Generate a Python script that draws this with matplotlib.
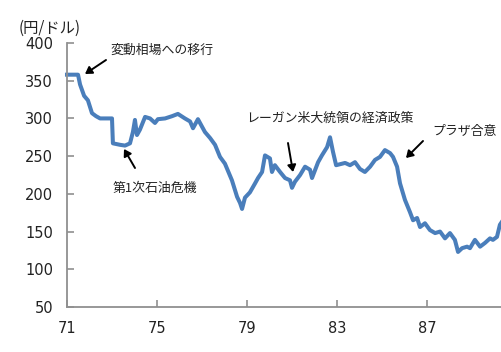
import matplotlib
matplotlib.use("Agg")
import matplotlib.pyplot as plt

plt.rcParams['font.family'] = ['Noto Sans CJK JP', 'DejaVu Sans']

years = [71.00, 71.49, 71.58, 71.76, 71.93, 72.11, 72.29, 72.47, 73.00, 73.04,
         73.36, 73.58, 73.80, 73.93, 74.02, 74.11, 74.24, 74.47, 74.69, 74.91,
         75.04, 75.36, 75.67, 75.93, 76.24, 76.47, 76.60, 76.82, 77.13, 77.36,
         77.58, 77.80, 78.02, 78.33, 78.56, 78.69, 78.78, 78.91, 79.13, 79.36,
         79.49, 79.67, 79.80, 80.02, 80.11, 80.24, 80.47, 80.69, 80.91, 81.00,
         81.13, 81.36, 81.58, 81.80, 81.89, 82.16, 82.33, 82.56, 82.69, 82.82,
         82.96, 83.36, 83.58, 83.80, 84.02, 84.24, 84.47, 84.69, 84.91, 85.13,
         85.36, 85.49, 85.67, 85.80, 86.02, 86.24, 86.38, 86.56, 86.69, 86.91,
         87.13, 87.36, 87.58, 87.80, 88.02, 88.24, 88.38, 88.56, 88.78, 88.91,
         89.13, 89.36, 89.58, 89.80, 89.93, 90.11, 90.24, 90.33]
rates = [358, 358, 345, 330, 324, 307, 303, 300, 300, 267,
         265, 264, 267, 282, 298, 278, 285, 302, 300, 294,
         299, 300, 303, 306, 300, 296, 287, 299, 282, 274,
         265, 249, 240, 218, 196, 188, 180, 195, 202, 214,
         221, 229, 251, 247, 229, 238, 229, 221, 218, 208,
         216, 225, 236, 232, 221, 242, 251, 262, 275, 256,
         238, 241, 238, 242, 233, 229, 236, 245, 249, 258,
         254, 249, 236, 214, 192, 176, 165, 168, 156, 161,
         152, 148, 150, 141, 148, 139, 123, 128, 130, 128,
         139, 130, 135, 141, 139, 143, 159, 163]

xticks = [71, 75, 79, 83, 87]
xtick_labels = ['71', '75', '79', '83', '87']
yticks = [50, 100, 150, 200, 250, 300, 350, 400]

W, H = 501, 352
fig = plt.figure(figsize=(W / 100, H / 100), dpi=100)
left, right, bottom, top = 67, 517, 307, 43
ax = fig.add_axes([left / W, (H - bottom) / H, (right - left) / W, (bottom - top) / H])
ax.plot(years, rates, color='#4a7ebb', lw=2.9, solid_joinstyle='round', clip_on=False)
ax.set_xlim(71, 91)
ax.set_ylim(50, 400)
ax.set_xticks(xticks)
ax.set_xticklabels(xtick_labels)
ax.set_yticks(yticks)
for s in ['top', 'right']:
    ax.spines[s].set_visible(False)
for s in ['left', 'bottom']:
    ax.spines[s].set_color('#909090')
    ax.spines[s].set_linewidth(1.3)
ax.tick_params(axis='both', direction='in', length=5, width=1.2, color='#909090',
               labelsize=10.5, labelcolor='#222222')
ax.tick_params(axis='x', pad=10)
ax.tick_params(axis='y', pad=10)
for lab in ax.get_xticklabels() + ax.get_yticklabels():
    lab.set_family('DejaVu Sans')

def px(x, y):
    return (x / W, 1 - y / H)

tc = '#222222'
fs = 9.3
fig.text(*px(19, 28), '(円/ドル)', fontsize=11, color=tc, va='center', ha='left')
fig.text(*px(110, 50), '変動相場への移行', fontsize=fs, color=tc, va='center', ha='left')
fig.text(*px(113, 188), '第1次石油危機', fontsize=fs, color=tc, va='center', ha='left')
fig.text(*px(246, 118), 'レーガン米大統領の経済政策', fontsize=fs, color=tc, va='center', ha='left')
fig.text(*px(432, 132), 'プラザ合意', fontsize=fs, color=tc, va='center', ha='left')

arrows = [((106, 60), (85, 74)),
          ((135, 168), (124, 149)),
          ((288, 143), (293, 172)),
          ((423, 141), (406, 158))]
for (x0, y0), (x1, y1) in arrows:
    fig.add_artist(matplotlib.patches.FancyArrowPatch(
        px(x0, y0), px(x1, y1), transform=fig.transFigure,
        arrowstyle='-|>,head_length=4,head_width=2.5', color='black', lw=1.4,
        shrinkA=0, shrinkB=0))

fig.savefig('out.png', dpi=100)
